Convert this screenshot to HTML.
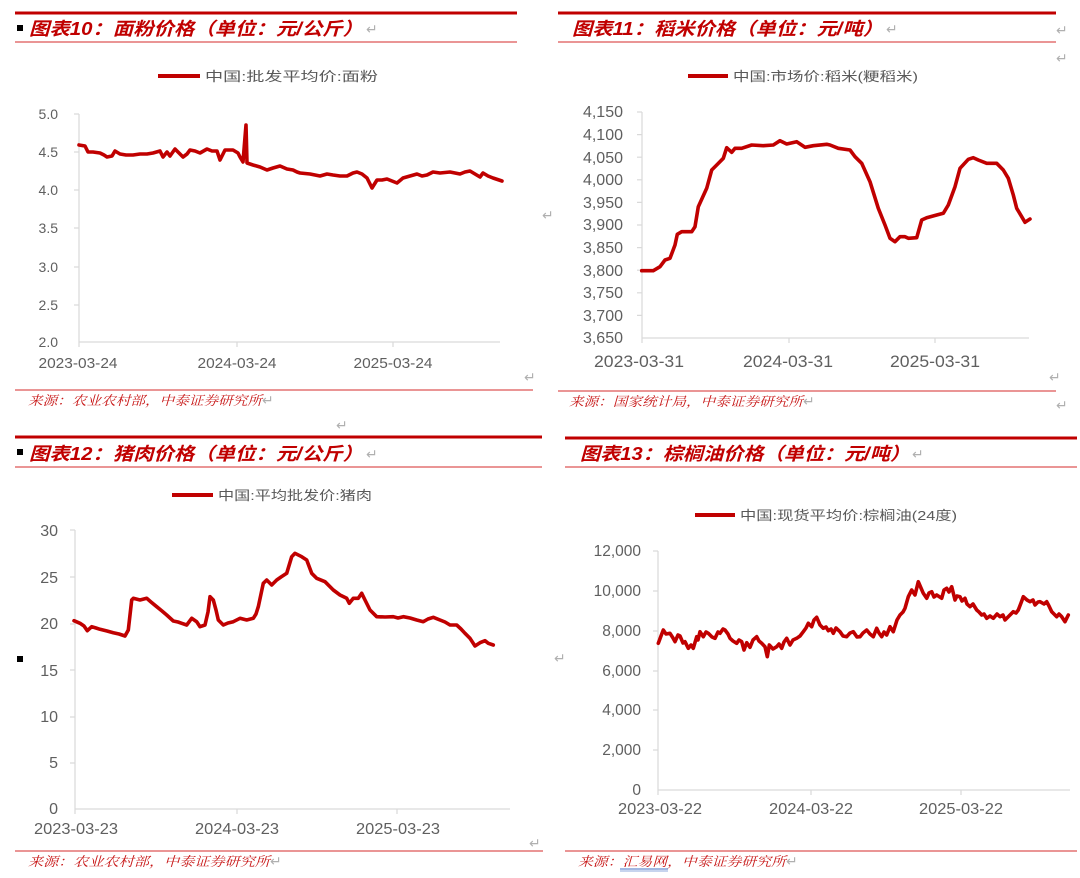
<!DOCTYPE html>
<html>
<head>
<meta charset="utf-8">
<style>
html,body{margin:0;padding:0;background:#fff;}
body{width:1080px;height:878px;overflow:hidden;}
svg{display:block;}
.t{font-family:"Liberation Sans","Noto Sans CJK SC",sans-serif;font-weight:bold;font-style:italic;font-size:18px;fill:#c00000;}
.lg{font-family:"Liberation Sans","Noto Sans CJK SC",sans-serif;font-size:13px;fill:#595959;}
.src{font-family:"Liberation Serif","Noto Serif CJK SC",serif;font-style:italic;font-size:13px;fill:#c81818;}
.ax{font-family:"Liberation Sans",sans-serif;fill:#5f5f5f;}
.rt{font-family:"DejaVu Sans",sans-serif;font-size:14px;fill:#b0b0b0;}
.ser{fill:none;stroke:#c00000;stroke-width:3.6;stroke-linejoin:round;stroke-linecap:round;}
.axl{stroke:#d9d9d9;stroke-width:1.2;fill:none;}
</style>
</head>
<body>
<svg width="1080" height="878" viewBox="0 0 1080 878" xmlns="http://www.w3.org/2000/svg">

<!-- ============ Chart 10 (top-left) ============ -->
<line x1="15" y1="13" x2="517" y2="13" stroke="#c00000" stroke-width="3"/>
<rect x="17" y="25" width="6" height="6" fill="#000"/>
<text class="t" x="29" y="35" textLength="334" lengthAdjust="spacingAndGlyphs">图表10：面粉价格（单位：元/公斤）</text>
<text class="rt" x="366" y="34">↵</text>
<line x1="15" y1="42" x2="517" y2="42" stroke="#d42b2b" stroke-width="1"/>
<line x1="158" y1="76" x2="200" y2="76" stroke="#c00000" stroke-width="4"/>
<text class="lg" x="205" y="81" textLength="173" lengthAdjust="spacingAndGlyphs">中国:批发平均价:面粉</text>

<g class="ax" font-size="14" text-anchor="end">
<text x="58" y="119">5.0</text>
<text x="58" y="157">4.5</text>
<text x="58" y="195">4.0</text>
<text x="58" y="233">3.5</text>
<text x="58" y="272">3.0</text>
<text x="58" y="310">2.5</text>
<text x="58" y="347">2.0</text>
</g>
<path class="axl" d="M79,114 V342 H500 M74,114 H79 M74,152 H79 M74,190 H79 M74,228 H79 M74,267 H79 M74,305 H79 M79,342 v5 M237,342 v5 M393,342 v5"/>
<g class="ax" font-size="15" text-anchor="middle">
<text x="78" y="368" textLength="79" lengthAdjust="spacingAndGlyphs">2023-03-24</text>
<text x="237" y="368" textLength="79" lengthAdjust="spacingAndGlyphs">2024-03-24</text>
<text x="393" y="368" textLength="79" lengthAdjust="spacingAndGlyphs">2025-03-24</text>
</g>
<polyline class="ser" stroke-width="3.5" points="79,145 85,146 88,152 93,152 100,153 104,155 107,157 112,156 115,151 120,154 126,155 133,155 140,154 147,154 153,153 160,151 163,157 167,152 170,156 175,149 179,153 183,157 187,154 190,150 195,151 200,153 207,149 212,151 217,151 220,160 225,150 233,150 238,153 240,157 243,162 246,125 247,163 253,165 260,167 267,170 273,168 280,166 287,169 293,170 297,172 300,173 310,174 320,176 327,174 333,175 340,176 347,176 353,173 357,172 362,174 367,178 372,188 377,180 382,180 387,179 392,181 397,183 403,178 410,176 417,174 422,176 427,175 433,172 440,173 450,172 455,173 460,174 465,172 470,171 475,174 480,177 483,173 488,176 493,178 496,179 502,181"/>

<line x1="15" y1="390" x2="533" y2="390" stroke="#d42b2b" stroke-width="1"/>
<text class="src" x="28" y="405" textLength="234" lengthAdjust="spacingAndGlyphs">来源：农业农村部，中泰证券研究所</text>
<text class="rt" x="262" y="405">↵</text>
<text class="rt" x="336" y="430">↵</text>
<text class="rt" x="524" y="382">↵</text>
<text class="rt" x="542" y="220">↵</text>

<!-- ============ Chart 11 (top-right) ============ -->
<line x1="558" y1="13" x2="1056" y2="13" stroke="#c00000" stroke-width="3"/>
<text class="t" x="572" y="35" textLength="311" lengthAdjust="spacingAndGlyphs">图表11：稻米价格（单位：元/吨）</text>
<text class="rt" x="886" y="34">↵</text>
<line x1="558" y1="42" x2="1056" y2="42" stroke="#d42b2b" stroke-width="1"/>
<text class="rt" x="1056" y="35">↵</text>
<text class="rt" x="1056" y="63">↵</text>
<line x1="688" y1="76" x2="728" y2="76" stroke="#c00000" stroke-width="4"/>
<text class="lg" x="733" y="81" textLength="185" lengthAdjust="spacingAndGlyphs">中国:市场价:稻米(粳稻米)</text>

<g class="ax" font-size="16" text-anchor="end">
<text x="623" y="117">4,150</text>
<text x="623" y="140">4,100</text>
<text x="623" y="163">4,050</text>
<text x="623" y="185">4,000</text>
<text x="623" y="208">3,950</text>
<text x="623" y="230">3,900</text>
<text x="623" y="253">3,850</text>
<text x="623" y="276">3,800</text>
<text x="623" y="298">3,750</text>
<text x="623" y="321">3,700</text>
<text x="623" y="343">3,650</text>
</g>
<path class="axl" d="M642,112 V338 H1029 M637,112 H642 M637,134.6 H642 M637,157.2 H642 M637,179.8 H642 M637,202.4 H642 M637,225 H642 M637,247.6 H642 M637,270.2 H642 M637,292.8 H642 M637,315.4 H642 M642,338 v5 M789,338 v5 M935,338 v5"/>
<g class="ax" font-size="17" text-anchor="middle">
<text x="639" y="367" textLength="90" lengthAdjust="spacingAndGlyphs">2023-03-31</text>
<text x="788" y="367" textLength="90" lengthAdjust="spacingAndGlyphs">2024-03-31</text>
<text x="935" y="367" textLength="90" lengthAdjust="spacingAndGlyphs">2025-03-31</text>
</g>
<polyline class="ser" stroke-width="4.2" points="641.7,270.7 653.3,270.7 660,266.7 665,260 670,258.3 675,245 677.3,234.3 681.7,231.7 691.7,231.7 695,226.7 698.3,206.7 706.7,188.3 711.7,170 716.7,165 723.3,158.3 726.7,147.7 731.7,152.3 735,148.3 741.7,148.3 751.7,145 763.3,145.7 773.3,145 780,140.7 786.7,144 796.7,141.7 805,147.3 813.3,145.7 826.7,144.3 830,145 838.3,148.3 850,150 855,156.7 861.7,163.3 870,181.7 878.3,208.3 885,225 890,238.3 895,241.7 900,236.7 905,236.7 908.3,238.3 916.7,237.7 921.7,220 926.7,217.7 936.7,215 943.3,213.3 948.3,205 955,186.7 960,168.3 968.3,159.3 973.3,157.7 978.3,160 986.7,163.3 996.7,163.3 1003.3,170 1008.3,178.3 1013.3,195 1016.7,208.3 1021.7,216.7 1025,222.3 1030,219"/>

<text class="rt" x="1049" y="382">↵</text>
<line x1="558" y1="391" x2="1056" y2="391" stroke="#d42b2b" stroke-width="1"/>
<text class="src" x="569" y="406" textLength="234" lengthAdjust="spacingAndGlyphs">来源：国家统计局，中泰证券研究所</text>
<text class="rt" x="803" y="406">↵</text>
<text class="rt" x="1056" y="410">↵</text>

<!-- ============ Chart 12 (bottom-left) ============ -->
<line x1="15" y1="437" x2="542" y2="437" stroke="#c00000" stroke-width="3"/>
<rect x="17" y="449" width="6" height="6" fill="#000"/>
<text class="t" x="29" y="460" textLength="334" lengthAdjust="spacingAndGlyphs">图表12：猪肉价格（单位：元/公斤）</text>
<text class="rt" x="366" y="459">↵</text>
<line x1="15" y1="467" x2="542" y2="467" stroke="#d42b2b" stroke-width="1"/>
<line x1="172" y1="495" x2="213" y2="495" stroke="#c00000" stroke-width="4"/>
<text class="lg" x="218" y="500" textLength="154" lengthAdjust="spacingAndGlyphs">中国:平均批发价:猪肉</text>
<rect x="17" y="656" width="6" height="6" fill="#000"/>

<g class="ax" font-size="16" text-anchor="end">
<text x="58" y="536">30</text>
<text x="58" y="583">25</text>
<text x="58" y="629">20</text>
<text x="58" y="676">15</text>
<text x="58" y="722">10</text>
<text x="58" y="768">5</text>
<text x="58" y="814">0</text>
</g>
<path class="axl" d="M75,530 V809 H510 M70,530 H75 M70,577 H75 M70,624 H75 M70,670 H75 M70,717 H75 M70,763 H75 M75,809 v5 M237,809 v5 M397,809 v5"/>
<g class="ax" font-size="16" text-anchor="middle">
<text x="76" y="834" textLength="84" lengthAdjust="spacingAndGlyphs">2023-03-23</text>
<text x="237" y="834" textLength="84" lengthAdjust="spacingAndGlyphs">2024-03-23</text>
<text x="398" y="834" textLength="84" lengthAdjust="spacingAndGlyphs">2025-03-23</text>
</g>
<polyline class="ser" stroke-width="4.6" points="74,620.7 80,623.3 84,626 87.3,630.7 91.7,626.7 96,628 100,629.3 107,631 113.3,632.7 119,634 125,636 128.3,630 131.7,600 133.3,598.3 140,600 146.7,598.3 151,602 156.7,606.7 162,611 166.7,615 173.3,621 178,622 181.7,623.3 186.7,625 191.7,618.3 196.7,621.7 200,626.7 205,625 208,612 210,596.7 213.3,600 216,610 218.3,620 223.3,625 228,623 233.3,621.7 240,618.3 246.7,620 253.3,618.3 256,614 258.3,606.7 263.3,583.3 266.7,580 271.7,585 276.7,580 281,577 286.7,573.3 291.7,556.7 295,553.3 301.7,556.7 306.7,560 311.7,573.3 316.7,578.3 325,581.7 333.3,590 340,595 346.7,598.3 349.3,603.3 353.3,598.3 358.3,598.3 361.7,593.3 365,600 370,610 376.7,616.7 385,617 393.3,616.7 398,618 403.3,616.7 410,618 416.7,620 423.3,621.7 428,619 433.3,617.3 440,620 445,622 450,625 456.7,625 461,629 465,633.3 470,638.3 475,646 480,642.7 485,640.7 488.3,643.3 493.3,645"/>

<text class="rt" x="529" y="848">↵</text>
<text class="rt" x="554" y="663">↵</text>
<line x1="15" y1="851" x2="543" y2="851" stroke="#d42b2b" stroke-width="1"/>
<text class="src" x="28" y="866" textLength="242" lengthAdjust="spacingAndGlyphs">来源：农业农村部，中泰证券研究所</text>
<text class="rt" x="270" y="866">↵</text>

<!-- ============ Chart 13 (bottom-right) ============ -->
<line x1="565" y1="438" x2="1077" y2="438" stroke="#c00000" stroke-width="3"/>
<text class="t" x="580" y="460" textLength="330" lengthAdjust="spacingAndGlyphs">图表13：棕榈油价格（单位：元/吨）</text>
<text class="rt" x="912" y="459">↵</text>
<line x1="565" y1="467" x2="1077" y2="467" stroke="#d42b2b" stroke-width="1"/>
<line x1="695" y1="515" x2="735" y2="515" stroke="#c00000" stroke-width="4"/>
<text class="lg" x="740" y="520" textLength="217" lengthAdjust="spacingAndGlyphs">中国:现货平均价:棕榈油(24度)</text>

<g class="ax" font-size="15.5" text-anchor="end">
<text x="641" y="556">12,000</text>
<text x="641" y="596">10,000</text>
<text x="641" y="636">8,000</text>
<text x="641" y="676">6,000</text>
<text x="641" y="715">4,000</text>
<text x="641" y="755">2,000</text>
<text x="641" y="795">0</text>
</g>
<path class="axl" d="M658,551 V790 H1070 M653,551 H658 M653,591 H658 M653,631 H658 M653,671 H658 M653,710 H658 M653,750 H658 M658,790 v5 M811,790 v5 M961,790 v5"/>
<g class="ax" font-size="16" text-anchor="middle">
<text x="660" y="814" textLength="84" lengthAdjust="spacingAndGlyphs">2023-03-22</text>
<text x="811" y="814" textLength="84" lengthAdjust="spacingAndGlyphs">2024-03-22</text>
<text x="961" y="814" textLength="84" lengthAdjust="spacingAndGlyphs">2025-03-22</text>
</g>
<polyline class="ser" stroke-width="4.6" points="658.3,643.3 661,636 663.3,630 666,634 670,633.3 673,638 675,641.7 678,635 680,636 683,643 685,641.7 688.3,648.3 691,645 693.3,648.3 696.7,636.7 698,640 700,631.7 703.3,636.7 706,632 708.3,633.3 712,637 715,638.3 718,632 720,633.3 723,629 725,630 728,634 730,638.3 733,641 736.7,643.3 739,640 741.7,641.7 744,650 746.7,642.7 750,647.3 753,640 756.7,636.7 759,641 761.7,643.3 765,646.7 767.3,656.7 769.3,645 773,649 776.7,646.7 779,644 781.7,648.3 784,642 786.7,638.3 790,645 793,640 796.7,638.3 800,636 803.3,631.7 806,628 808.3,623.3 811.7,626.7 814,620 816.7,617.3 820,625 823.3,628.3 826,627 828.3,630.7 831,629 833.3,633.3 836,628 840,631.7 843,636 846.7,636.7 850,633 853.3,631.7 857,637 860,636.7 863,633 866.7,630 870,634 873.3,636.7 876.7,628.3 879,633 881.7,636.7 884,632 886.7,635 890,626.7 893.3,631.7 897,620 900,615 903,612 905,608.3 908.3,596.7 911.7,590 915,595 918.3,581.7 921,588 923.3,593.3 926.7,598.3 929,593 931.7,591.7 934,597 936.7,595 941.7,598.3 944,590 946.7,588.3 949,592 951.7,586.7 955,600 957,596 960,596.7 962,601 965,598.3 967,604 970,606.7 973,604 976.7,610 979,612 981.7,615 984,614 986.7,618.3 990,616 993.3,618.3 997,614 1000,616.7 1003,615 1005,620 1009,616 1013.3,611.7 1016,613 1018.3,610 1021,603 1023.3,596.7 1027,600 1030,601.7 1033,600 1035,605 1038,602 1040,601.7 1044,604 1046.7,601.7 1049,606 1051.7,611.7 1054,614 1056.7,616.7 1059,614 1061.7,616.7 1065,621.7 1068.3,615"/>

<line x1="565" y1="851" x2="1077" y2="851" stroke="#d42b2b" stroke-width="1"/>
<text class="src" x="578" y="866" textLength="208" lengthAdjust="spacingAndGlyphs">来源：汇易网，中泰证券研究所</text>
<line x1="620" y1="869" x2="668" y2="869" stroke="#4472c4" stroke-width="1"/>
<line x1="620" y1="871" x2="668" y2="871" stroke="#8faadc" stroke-width="1"/>
<text class="rt" x="786" y="866">↵</text>
</svg>
</body>
</html>
